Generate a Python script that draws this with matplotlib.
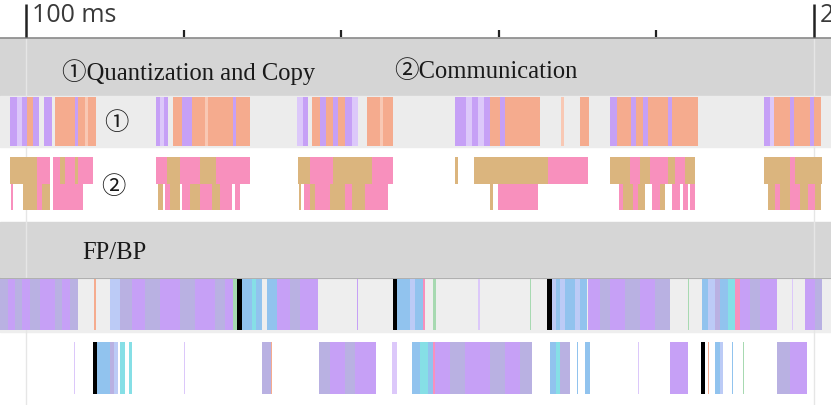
import matplotlib
matplotlib.use("Agg")
import matplotlib.pyplot as plt

# trace slices, times in ms: (start, end, kind)
quant_row = [
    (97.97, 98.86, 'P'), (98.86, 99.49, 'LP'), (99.49, 100.13, 'P'), (100.13, 100.89, 'S'),
    (100.89, 101.65, 'P'), (102.28, 103.30, 'P'), (103.68, 106.22, 'S'), (106.22, 106.60, 'P'),
    (106.60, 107.49, 'S'), (107.49, 107.87, 'LS'), (107.87, 108.88, 'S'),
    (116.50, 117.01, 'P'), (117.01, 117.51, 'LP'), (117.51, 118.02, 'P'), (118.65, 119.80, 'S'),
    (119.80, 121.07, 'P'), (121.07, 122.72, 'S'), (122.72, 123.10, 'LS'), (123.10, 126.27, 'S'),
    (126.27, 126.65, 'P'), (126.65, 128.43, 'S'),
    (134.39, 135.15, 'LP'), (135.15, 135.79, 'P'), (136.29, 137.31, 'S'), (137.31, 138.07, 'P'),
    (138.07, 138.96, 'S'), (138.96, 139.59, 'P'), (139.59, 140.48, 'S'), (140.48, 141.37, 'P'),
    (141.37, 142.13, 'LP'), (143.27, 144.92, 'S'), (144.92, 145.30, 'LS'), (145.30, 146.57, 'S'),
    (154.44, 155.84, 'P'), (155.84, 156.60, 'LP'), (156.60, 157.36, 'P'), (157.36, 158.12, 'LP'),
    (158.12, 158.88, 'P'), (158.88, 160.15, 'S'), (160.15, 160.79, 'P'), (160.79, 165.23, 'S'),
    (167.89, 168.27, 'LS'), (170.30, 171.45, 'S'),
    (174.11, 175.00, 'P'), (175.00, 176.78, 'S'), (176.78, 177.41, 'P'), (177.41, 178.30, 'S'),
    (178.30, 178.93, 'P'), (178.93, 181.47, 'S'), (181.47, 181.98, 'P'), (181.98, 185.28, 'S'),
    (193.65, 194.42, 'P'), (194.42, 194.92, 'LP'), (194.92, 196.95, 'S'), (196.95, 197.46, 'P'),
    (197.46, 199.49, 'S'), (199.49, 200.00, 'P'), (200.00, 200.89, 'S'),
]

comm_upper = [
    (97.97, 101.40, 'T'), (101.40, 103.05, 'K'), (103.43, 104.31, 'K'), (104.31, 104.95, 'T'),
    (104.95, 106.22, 'K'), (106.22, 106.60, 'T'), (106.60, 108.50, 'K'),
    (116.50, 117.89, 'K'), (117.89, 119.54, 'T'), (119.54, 122.08, 'K'), (122.08, 124.11, 'T'),
    (124.11, 128.43, 'K'),
    (134.52, 136.04, 'T'), (136.04, 138.96, 'K'), (138.96, 143.91, 'T'), (143.91, 146.57, 'K'),
    (154.44, 154.82, 'T'), (156.85, 166.24, 'T'), (166.24, 171.32, 'K'),
    (174.11, 176.65, 'T'), (176.65, 177.92, 'K'), (177.92, 179.19, 'T'), (179.19, 181.47, 'K'),
    (181.47, 182.36, 'T'), (182.36, 183.63, 'K'), (183.63, 184.90, 'T'),
    (193.65, 196.95, 'T'), (196.95, 197.59, 'K'), (197.59, 201.02, 'T'),
]

comm_lower = [
    (98.10, 98.35, 'K'), (99.62, 101.40, 'T'), (101.40, 102.03, 'K'), (102.03, 103.05, 'T'),
    (103.43, 107.23, 'K'),
    (116.75, 117.39, 'T'), (117.64, 118.27, 'K'), (118.27, 119.54, 'T'), (119.80, 120.81, 'K'),
    (120.81, 122.08, 'T'), (122.08, 123.60, 'K'), (123.60, 124.62, 'T'), (124.62, 126.14, 'K'),
    (126.52, 127.16, 'K'),
    (134.64, 134.90, 'T'), (135.28, 136.04, 'K'), (136.04, 136.68, 'T'), (136.68, 138.58, 'K'),
    (138.58, 140.48, 'T'), (140.48, 141.37, 'K'), (141.37, 143.02, 'T'), (143.02, 145.94, 'K'),
    (158.88, 159.26, 'T'), (159.90, 164.97, 'K'),
    (175.25, 175.76, 'K'), (175.76, 177.03, 'T'), (177.03, 177.66, 'K'), (177.66, 178.55, 'T'),
    (179.44, 180.46, 'K'), (180.46, 181.09, 'T'), (181.98, 182.99, 'K'), (183.38, 184.01, 'K'),
    (184.26, 184.90, 'K'),
    (194.16, 195.05, 'T'), (195.05, 195.69, 'K'), (195.69, 196.95, 'T'), (196.95, 198.22, 'K'),
    (198.22, 199.24, 'T'), (199.24, 200.13, 'K'), (200.13, 200.89, 'T'),
]

fpbp_upper = [
    (96.70, 97.72, 'G'), (97.72, 98.60, 'P'), (98.60, 99.49, 'G'), (99.49, 100.51, 'P'),
    (100.51, 101.78, 'G'), (101.78, 103.68, 'P'), (103.68, 104.57, 'G'), (104.57, 105.58, 'P'),
    (105.58, 106.60, 'G'), (108.63, 108.88, 'S'),
    (110.66, 111.93, 'LB'), (111.93, 113.45, 'G'), (113.45, 115.10, 'P'), (115.10, 117.01, 'G'),
    (117.01, 119.54, 'P'), (119.54, 121.45, 'G'), (121.45, 123.98, 'P'), (123.98, 125.25, 'G'),
    (125.25, 126.27, 'P'), (126.27, 126.78, 'GR'), (126.78, 127.41, 'BK'), (127.41, 128.68, 'B'),
    (128.68, 129.19, 'C'), (129.19, 129.95, 'B'),
    (130.58, 131.85, 'B'), (131.85, 133.50, 'P'), (133.50, 134.77, 'G'), (134.77, 137.06, 'P'),
    (142.01, 142.13, 'P'), (146.57, 147.08, 'BK'), (147.08, 148.73, 'B'), (148.73, 149.37, 'LB'),
    (149.37, 150.38, 'B'), (150.38, 150.63, 'K'), (151.65, 152.03, 'GR'), (157.36, 157.61, 'LP'),
    (163.96, 164.09, 'GR'), (166.12, 166.75, 'BK'), (166.75, 167.26, 'LB'), (167.26, 167.77, 'B'),
    (167.77, 168.40, 'LB'), (168.40, 169.67, 'B'), (169.67, 170.30, 'LB'), (170.30, 171.19, 'B'),
    (171.32, 172.84, 'P'), (172.84, 174.11, 'G'), (174.11, 176.02, 'P'), (176.02, 177.92, 'G'),
    (177.92, 179.82, 'P'), (179.82, 181.73, 'G'), (184.01, 184.14, 'GR'),
    (185.79, 186.55, 'B'), (186.55, 187.44, 'LB'), (187.44, 188.07, 'G'), (188.07, 189.09, 'B'),
    (189.09, 189.97, 'C'), (189.97, 190.61, 'K'), (190.61, 191.88, 'P'), (191.88, 193.15, 'G'),
    (193.15, 195.30, 'P'), (197.21, 197.34, 'LP'), (198.86, 200.13, 'P'), (200.13, 201.02, 'G'),
]

fpbp_lower = [
    (106.09, 106.22, 'LP'), (108.50, 109.01, 'BK'), (109.01, 110.66, 'B'), (110.66, 111.17, 'G'),
    (111.17, 111.68, 'LB'), (111.93, 112.56, 'C'), (113.07, 113.45, 'C'), (120.05, 120.18, 'LP'),
    (129.95, 131.09, 'G'), (131.09, 131.22, 'S'),
    (137.18, 138.58, 'G'), (138.58, 140.48, 'P'), (140.48, 141.75, 'G'), (141.75, 144.42, 'P'),
    (146.45, 147.08, 'LP'), (148.98, 150.00, 'B'), (150.00, 151.02, 'C'), (151.02, 151.65, 'B'),
    (151.65, 151.90, 'K'), (151.90, 153.81, 'P'), (153.81, 155.71, 'G'), (155.71, 158.88, 'P'),
    (158.88, 160.79, 'G'), (160.79, 162.69, 'P'), (162.69, 164.21, 'G'),
    (166.50, 167.26, 'B'), (167.26, 167.77, 'C'), (167.77, 169.04, 'G'), (169.92, 170.05, 'B'),
    (170.94, 171.57, 'B'), (177.66, 177.79, 'LP'), (181.73, 184.01, 'P'), (185.66, 186.17, 'BK'),
    (186.55, 186.68, 'S'), (187.44, 188.07, 'B'), (188.07, 188.45, 'LB'), (189.59, 189.72, 'B'),
    (190.99, 191.12, 'GR'), (195.30, 196.95, 'G'), (196.95, 199.11, 'P'),
]

kind_colors = {
    'P': '#c6a0f6', 'LP': '#dcc8fa', 'S': '#f5ab8e', 'LS': '#f8c8b4',
    'K': '#f890bd', 'T': '#dbb57e', 'B': '#91c3ee', 'LB': '#bccbf6',
    'C': '#86dfe6', 'G': '#b9b1e2', 'GR': '#a7d9b1', 'BK': '#000000',
}

major_ticks = [100, 200]
minor_ticks = [120, 140, 160, 180]
group_titles = ['\u2460Quantization and Copy', '\u2461Communication', 'FP/BP']

fig = plt.figure(figsize=(8.31, 4.06), dpi=100)
ax = fig.add_axes([0, 0, 1, 1])
ax.set_xlim(96.70, 202.16)
ax.set_ylim(406, 0)
ax.axis('off')

serif = ['Liberation Serif', 'Noto Sans CJK SC', 'DejaVu Serif']


def draw_row(segs, y0, h):
    for s, e, k in segs:
        w = max(e - s, 0.13)
        ax.broken_barh([(s, w)], (y0, h), facecolors=kind_colors[k],
                       edgecolor='none', linewidth=0)


# backgrounds
ax.axhspan(39, 97, color='#d5d5d5', zorder=0)
ax.axhspan(97, 148, color='#ececec', zorder=0)
ax.axhspan(223, 279, color='#d6d6d6', zorder=0)
ax.axhspan(279, 333, color='#eeeeee', zorder=0)
ax.axhline(279, color='#b0b0b0', lw=0.8, zorder=1)

# faint grid lines at major ticks
for t in major_ticks:
    ax.vlines(t, 39, 406, color='#e6e6e6', lw=1, zorder=0.5)

# ruler
ax.axhline(38.5, color='#8a8a8a', lw=1.2)
for t in major_ticks:
    ax.vlines(t, 5, 38, color='#222222', lw=1.8)
for t in minor_ticks:
    ax.vlines(t, 31, 38, color='#222222', lw=1.6)
ax.text(100.75, 16, '100 ms', fontsize=18, family='Open Sans', color='#3a3a3a', va='center')
ax.text(200.75, 16, '2', fontsize=18, family='Open Sans', color='#3a3a3a', va='center')

# slices
draw_row(quant_row, 98, 49)
draw_row(comm_upper, 158, 27)
draw_row(comm_lower, 185, 26)
draw_row(fpbp_upper, 280, 51)
draw_row(fpbp_lower, 343, 52)

# labels
ax.text(104.6, 72, group_titles[0], fontsize=17.7, family=serif, color='#1a1a1a', va='center')
ax.text(146.75, 72, group_titles[1], fontsize=17.7, family=serif, color='#1a1a1a', va='center')
ax.text(107.2, 253, group_titles[2], fontsize=17.7, family=serif, color='#1a1a1a', va='center')
ax.text(109.9, 124, '\u2460', fontsize=17.5, family=serif, color='#1a1a1a', va='center')
ax.text(109.5, 188, '\u2461', fontsize=17.5, family=serif, color='#1a1a1a', va='center')

fig.savefig('out.png', dpi=100)
